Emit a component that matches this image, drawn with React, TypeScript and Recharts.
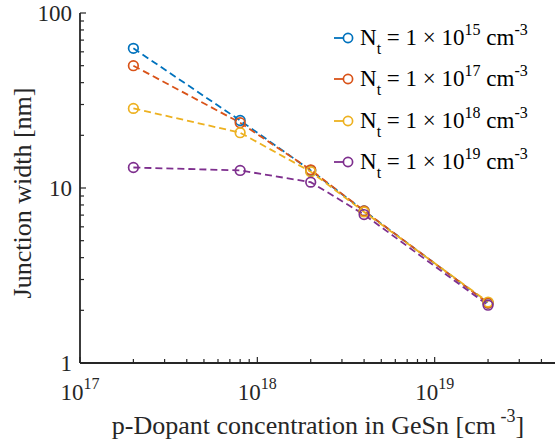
import { Label, Legend, Line, LineChart, XAxis, YAxis } from "recharts";

const dopantConcentration = [2e17, 8e17, 2e18, 4e18, 2e19];
const widthNt15 = [62.8, 24.3, 12.6, 7.4, 2.2];
const widthNt17 = [50.0, 23.6, 12.7, 7.4, 2.2];
const widthNt18 = [28.5, 20.7, 12.4, 7.3, 2.23];
const widthNt19 = [13.1, 12.6, 10.8, 7.05, 2.14];

const trapExponents = ["15", "17", "18", "19"];
const seriesColors = ["#0072BD", "#D95319", "#EDB120", "#7E2F8E"];
const seriesKeys = ["nt15", "nt17", "nt18", "nt19"];

const xDecades = [1e17, 1e18, 1e19, 1e20];
const xLabelled = [1e17, 1e18, 1e19];
const yDecades = [1, 10, 100];

const FONT = '"Liberation Serif", "DejaVu Serif", serif';
const AXIS_COLOR = "#262626";

const data = dopantConcentration.map((x, i) => ({
  x,
  nt15: widthNt15[i],
  nt17: widthNt17[i],
  nt18: widthNt18[i],
  nt19: widthNt19[i],
}));

const withMinors = (decades: number[]) =>
  decades.flatMap((d, i) =>
    i === decades.length - 1 ? [d] : [1, 2, 3, 4, 5, 6, 7, 8, 9].map((k) => k * d)
  );

const xTicks = withMinors(xDecades);
const yTicks = withMinors(yDecades);

const isDecade = (v: number) => {
  const l = Math.log10(v);
  return Math.abs(l - Math.round(l)) < 1e-6;
};

function BottomTick({ x, y, payload }: any) {
  const v = payload.value;
  const major = isDecade(v);
  const labelled = xLabelled.some((d) => Math.abs(d - v) / d < 1e-6);
  return (
    <g>
      <line x1={x} x2={x} y1={y} y2={y - (major ? 6 : 4)} stroke={AXIS_COLOR} strokeWidth={1.2} />
      {labelled ? (
        <text x={x} y={y + 37} textAnchor="middle" fill={AXIS_COLOR} fontFamily={FONT} fontSize={23}>
          10
          <tspan dy={-11} fontSize={16}>
            {Math.round(Math.log10(v))}
          </tspan>
        </text>
      ) : null}
    </g>
  );
}

function TopTick({ x, y, payload }: any) {
  const major = isDecade(payload.value);
  return <line x1={x} x2={x} y1={y} y2={y + (major ? 6 : 4)} stroke={AXIS_COLOR} strokeWidth={1.2} />;
}

function LeftTick({ x, y, payload }: any) {
  const v = payload.value;
  const major = isDecade(v);
  return (
    <g>
      <line x1={x} x2={x + (major ? 6 : 4)} y1={y} y2={y} stroke={AXIS_COLOR} strokeWidth={1.2} />
      {major ? (
        <text x={x - 8} y={y + 8} textAnchor="end" fill={AXIS_COLOR} fontFamily={FONT} fontSize={23}>
          {v}
        </text>
      ) : null}
    </g>
  );
}

function XTitle({ viewBox }: any) {
  return (
    <text x={viewBox.x + 238} y={viewBox.y + 71} textAnchor="middle" fill={AXIS_COLOR} fontFamily={FONT} fontSize={26}>
      p-Dopant concentration in GeSn [cm
      <tspan dy={-12} fontSize={18}>
        {" -3"}
      </tspan>
      <tspan dy={12}>]</tspan>
    </text>
  );
}

function YTitle({ viewBox }: any) {
  const cx = viewBox.x + 22;
  const cy = viewBox.y + 180;
  return (
    <text
      x={cx}
      y={cy}
      transform={`rotate(-90 ${cx} ${cy})`}
      textAnchor="middle"
      dominantBaseline="central"
      fill={AXIS_COLOR}
      fontFamily={FONT}
      fontSize={26}
    >
      Junction width [nm]
    </text>
  );
}

function RingDot({ cx, cy, stroke }: any) {
  if (cx == null || cy == null) return null;
  return <circle cx={cx} cy={cy} r={4.8} fill="none" stroke={stroke} strokeWidth={1.7} />;
}

function TrapLegend() {
  return (
    <div style={{ fontFamily: FONT, fontSize: 23, color: "#000" }}>
      {trapExponents.map((exp, i) => (
        <div key={exp} style={{ display: "flex", alignItems: "center", height: 41.5, whiteSpace: "nowrap" }}>
          <svg width={27} height={14}>
            <line x1={1} x2={11} y1={7} y2={7} stroke={seriesColors[i]} strokeWidth={1.8} />
            <circle cx={15} cy={7} r={4.6} fill="none" stroke={seriesColors[i]} strokeWidth={1.7} />
          </svg>
          <span>
            N<span style={{ fontSize: 16, position: "relative", top: 9 }}>t</span> = 1 × 10
            <span style={{ fontSize: 16, position: "relative", top: -10 }}>{exp}</span> cm
            <span style={{ fontSize: 16, position: "relative", top: -10 }}>-3</span>
          </span>
        </div>
      ))}
    </div>
  );
}

export default function App() {
  return (
    <div
      style={{
        position: "absolute",
        left: 0,
        top: 0,
        width: 555,
        height: 442,
        overflow: "hidden",
        background: "#fff",
      }}
    >
      <LineChart width={640} height={442} data={data} margin={{ top: 13, right: 28, left: 0, bottom: 0 }}>
        <XAxis
          dataKey="x"
          type="number"
          scale="log"
          domain={[1e17, 1e20]}
          ticks={xTicks}
          tick={<BottomTick />}
          tickSize={0}
          tickMargin={0}
          tickLine={false}
          interval={0}
          height={79}
          allowDataOverflow
          axisLine={{ stroke: AXIS_COLOR, strokeWidth: 1.8 }}
        >
          <Label content={<XTitle />} />
        </XAxis>
        <XAxis
          xAxisId="top"
          orientation="top"
          dataKey="x"
          type="number"
          scale="log"
          domain={[1e17, 1e20]}
          ticks={xTicks}
          tick={<TopTick />}
          tickSize={0}
          tickMargin={0}
          tickLine={false}
          interval={0}
          height={0}
          allowDataOverflow
          axisLine={{ stroke: AXIS_COLOR, strokeWidth: 1.8 }}
        />
        <YAxis
          type="number"
          scale="log"
          domain={[1, 100]}
          ticks={yTicks}
          tick={<LeftTick />}
          tickSize={0}
          tickMargin={0}
          tickLine={false}
          interval={0}
          width={80}
          allowDataOverflow
          axisLine={{ stroke: AXIS_COLOR, strokeWidth: 1.8 }}
        >
          <Label content={<YTitle />} />
        </YAxis>
        <Legend
          layout="vertical"
          align="center"
          verticalAlign="middle"
          content={<TrapLegend />}
          wrapperStyle={{ position: "absolute", left: 333, top: 17, width: "auto" }}
        />
        {seriesKeys.map((key, i) => (
          <Line
            key={key}
            dataKey={key}
            type="linear"
            stroke={seriesColors[i]}
            strokeWidth={1.8}
            strokeDasharray="7 4"
            dot={<RingDot />}
            activeDot={false}
            isAnimationActive={false}
          />
        ))}
      </LineChart>
    </div>
  );
}
